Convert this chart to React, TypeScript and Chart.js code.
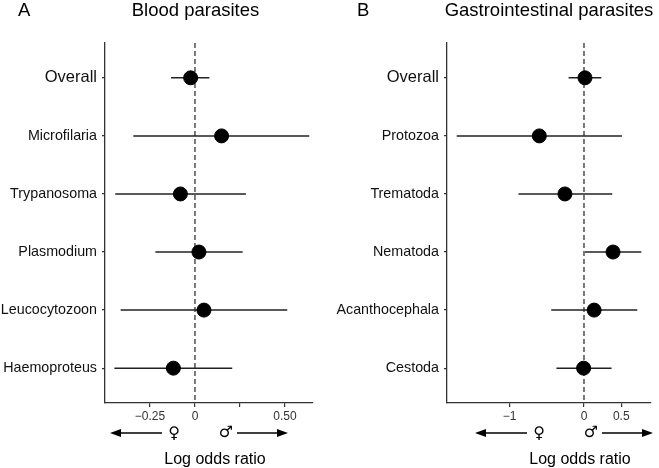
import React, { useEffect, useRef } from "react";
import { Chart, registerables } from "chart.js";
Chart.register(...registerables);

const bloodCategories = ["Overall", "Microfilaria", "Trypanosoma", "Plasmodium", "Leucocytozoon", "Haemoproteus"];
const bloodEstimate = [-0.024, 0.148, -0.081, 0.022, 0.05, -0.12];
const bloodLower = [-0.133, -0.343, -0.443, -0.22, -0.413, -0.448];
const bloodUpper = [0.08, 0.635, 0.283, 0.265, 0.513, 0.207];
const bloodTicks = [-0.25, 0, 0.25, 0.5];
const bloodTickLabels = ["\u22120.25", "0", "", "0.50"];

const giCategories = ["Overall", "Protozoa", "Trematoda", "Nematoda", "Acanthocephala", "Cestoda"];
const giEstimate = [0.013, -0.6, -0.256, 0.39, 0.136, -0.005];
const giLower = [-0.207, -1.71, -0.88, 0.013, -0.44, -0.37];
const giUpper = [0.232, 0.51, 0.38, 0.77, 0.716, 0.37];
const giTicks = [-1, 0, 0.5];
const giTickLabels = ["\u22121", "0", "0.5"];

const FONT = "'Liberation Sans', Arial, Helvetica, sans-serif";

type PanelProps = {
  width: number;
  categories: string[];
  estimate: number[];
  lower: number[];
  upper: number[];
  ticks: number[];
  tickLabels: string[];
  xMin: number;
  xMax: number;
  yAxisWidth: number;
  padRight: number;
  letter: string;
  letterX: number;
  title: string;
  titleCenter: number;
  annoShift: number;
};

function Panel(p: PanelProps) {
  const ref = useRef<HTMLCanvasElement | null>(null);
  useEffect(() => {
    if (!ref.current) return;
    const forest = {
      id: "forest",
      beforeDatasetsDraw(chart: any) {
        const { ctx, chartArea, scales } = chart;
        const x = scales.x;
        const y = scales.y;
        ctx.save();
        const x0 = x.getPixelForValue(0);
        ctx.strokeStyle = "#333";
        ctx.lineWidth = 1.3;
        ctx.setLineDash([5, 3]);
        ctx.beginPath();
        ctx.moveTo(x0, chartArea.top);
        ctx.lineTo(x0, chartArea.bottom);
        ctx.stroke();
        ctx.setLineDash([]);
        ctx.lineWidth = 1.5;
        ctx.strokeStyle = "#222";
        p.lower.forEach((lo, i) => {
          const py = y.getPixelForValue(i);
          ctx.beginPath();
          ctx.moveTo(x.getPixelForValue(lo), py);
          ctx.lineTo(x.getPixelForValue(p.upper[i]), py);
          ctx.stroke();
        });
        ctx.restore();
      },
      afterDraw(chart: any) {
        const ctx = chart.ctx;
        ctx.save();
        ctx.fillStyle = "#000";
        ctx.textBaseline = "alphabetic";
        ctx.font = `18.5px ${FONT}`;
        ctx.textAlign = "left";
        ctx.fillText(p.letter, p.letterX, 16);
        ctx.textAlign = "center";
        ctx.fillText(p.title, p.titleCenter, 16);
        // arrows
        const s = p.annoShift;
        const ay = 433;
        ctx.strokeStyle = "#000";
        ctx.lineWidth = 1.3;
        const arrow = (from: number, to: number) => {
          const dir = Math.sign(to - from);
          ctx.beginPath();
          ctx.moveTo(from, ay);
          ctx.lineTo(to - dir * 8, ay);
          ctx.stroke();
          ctx.beginPath();
          ctx.moveTo(to, ay);
          ctx.lineTo(to - dir * 11, ay - 4);
          ctx.lineTo(to - dir * 11, ay + 4);
          ctx.closePath();
          ctx.fill();
        };
        arrow(162 + s, 110 + s);
        arrow(237 + s, 288 + s);
        ctx.font = `16px 'DejaVu Sans', ${FONT}`;
        ctx.textBaseline = "middle";
        ctx.fillText("\u2640", 174 + s, ay + 1);
        ctx.fillText("\u2642", 226 + s, ay);
        ctx.font = `16px ${FONT}`;
        ctx.textBaseline = "alphabetic";
        ctx.fillText("Log odds ratio", 215 + s, 464);
        ctx.restore();
      },
    };
    const chart = new Chart(ref.current, {
      type: "scatter",
      data: {
        datasets: [
          {
            data: p.estimate.map((v, i) => ({ x: v, y: i })),
            backgroundColor: "#000",
            borderColor: "#000",
            pointRadius: 7,
            pointHoverRadius: 7,
          },
        ],
      },
      options: {
        responsive: false,
        animation: false,
        events: [],
        layout: { padding: { left: 0, right: p.padRight, top: 43, bottom: 0 } },
        plugins: { legend: { display: false }, tooltip: { enabled: false } },
        scales: {
          x: {
            type: "linear",
            min: p.xMin,
            max: p.xMax,
            afterBuildTicks: (scale: any) => {
              scale.ticks = p.ticks.map((v) => ({ value: v }));
            },
            afterFit: (scale: any) => {
              scale.height = 65;
            },
            ticks: {
              autoSkip: false,
              maxRotation: 0,
              padding: 2,
              color: "#333",
              font: { family: FONT, size: 12 },
              callback: (v: any) => {
                const idx = p.ticks.indexOf(Number(v));
                return idx >= 0 ? p.tickLabels[idx] : "";
              },
            },
            grid: { display: true, drawOnChartArea: false, drawTicks: true, tickLength: 4, color: "#333", lineWidth: 1.2 },
            border: { display: true, color: "#333", width: 1.3 },
          },
          y: {
            type: "linear",
            reverse: true,
            min: -0.6,
            max: 5.6,
            afterBuildTicks: (scale: any) => {
              scale.ticks = p.categories.map((_, i) => ({ value: i }));
            },
            afterFit: (scale: any) => {
              scale.width = p.yAxisWidth;
            },
            ticks: {
              autoSkip: false,
              padding: 5,
              color: "#111",
              font: (ctx: any) => ({ family: FONT, size: ctx.index === 0 ? 16.5 : 14.3 }),
              callback: (v: any) => p.categories[Number(v)] ?? "",
            },
            grid: { display: true, drawOnChartArea: false, drawTicks: true, tickLength: 3, color: "#333", lineWidth: 1.2 },
            border: { display: true, color: "#333", width: 1.3 },
          },
        },
      },
      plugins: [forest],
    } as any);
    return () => chart.destroy();
  }, []);
  return <canvas ref={ref} width={p.width} height={468} style={{ display: "block" }} />;
}

export default function App() {
  return (
    <div style={{ position: "fixed", left: 0, top: 0, width: 659, height: 468, display: "flex", background: "#fff" }}>
      <Panel
        width={330}
        categories={bloodCategories}
        estimate={bloodEstimate}
        lower={bloodLower}
        upper={bloodUpper}
        ticks={bloodTicks}
        tickLabels={bloodTickLabels}
        xMin={-0.5}
        xMax={0.656}
        yAxisWidth={105}
        padRight={17}
        letter="A"
        letterX={18}
        title="Blood parasites"
        titleCenter={195.5}
        annoShift={0}
      />
      <Panel
        width={329}
        categories={giCategories}
        estimate={giEstimate}
        lower={giLower}
        upper={giUpper}
        ticks={giTicks}
        tickLabels={giTickLabels}
        xMin={-1.84}
        xMax={0.9}
        yAxisWidth={117}
        padRight={4}
        letter="B"
        letterX={27}
        title="Gastrointestinal parasites"
        titleCenter={219}
        annoShift={35}
      />
    </div>
  );
}
